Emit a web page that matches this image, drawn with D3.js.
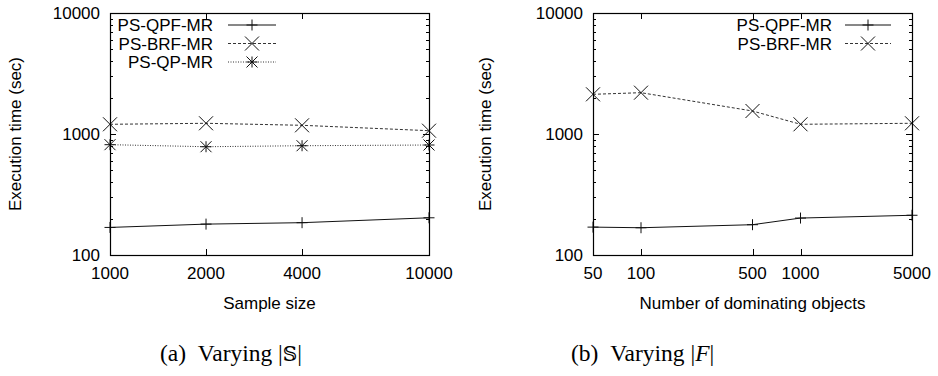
<!DOCTYPE html>
<html><head><meta charset="utf-8">
<script src="https://cdn.jsdelivr.net/npm/d3@7"></script>
<style>
body{margin:0;background:#fff;}
svg{font-family:"Liberation Sans",Arial,sans-serif;}
</style></head>
<body><svg id="c" width="938" height="376"></svg>
<script>
// ---- data ----
const sampleSizes = [1000, 2000, 4000, 10000];
const sampleTicks = ["1000", "2000", "4000", "10000"];
const qpfA = [169, 180, 185, 203];
const brfA = [1203, 1226, 1180, 1065];
const qpA  = [816, 785, 800, 811];

const domObjects = [50, 100, 500, 1000, 5000];
const domTicks = ["50", "100", "500", "1000", "5000"];
const qpfB = [170, 168, 178, 202, 213];
const brfB = [2128, 2195, 1549, 1203, 1226];

const yTickLabels = ["100", "1000", "10000"];
const yTickValues = [100, 1000, 10000];

const svg = d3.select("#c");

function marker(g, type, x, y) {
  const p = d3.path();
  if (type === "plus" || type === "star") {
    const s = 5.5;
    p.moveTo(x - s, y); p.lineTo(x + s, y);
    p.moveTo(x, y - s); p.lineTo(x, y + s);
  }
  if (type === "cross" || type === "star") {
    const s = type === "star" ? 5.5 : 7;
    p.moveTo(x - s, y - s); p.lineTo(x + s, y + s);
    p.moveTo(x - s, y + s); p.lineTo(x + s, y - s);
  }
  g.append("path").attr("d", p.toString()).attr("stroke", "#111").attr("stroke-width", 1).attr("fill", "none");
}

const styles = {
  solid: null,
  dashed: "3,2",
  dotted: "1,1.5"
};

function panel(opt) {
  const {x0, x1, y0, y1, xs, xt, series, legend, xLabel, yLabelX, capX, capHTML} = opt;
  const g = svg.append("g");
  const x = d3.scaleLog().domain([xs[0], xs[xs.length - 1]]).range([x0, x1]);
  const y = d3.scaleLog().domain([100, 10000]).range([y1, y0]);

  // ticks
  const tk = g.append("g").attr("stroke", "#000").attr("stroke-width", 1);
  const ticksY = [];
  for (let d = 100; d < 10000; d *= 10) for (let m = 1; m <= 10; m++) ticksY.push(d * m);
  ticksY.filter((v, i, a) => a.indexOf(v) === i).forEach(v => {
    const major = [100, 1000, 10000].includes(v);
    const len = major ? 6 : 3;
    const yy = Math.round(y(v)) + 0.5;
    tk.append("line").attr("x1", x0).attr("x2", x0 + len).attr("y1", yy).attr("y2", yy);
    tk.append("line").attr("x1", x1).attr("x2", x1 - len).attr("y1", yy).attr("y2", yy);
  });
  xs.forEach(v => {
    const xx = Math.round(x(v)) + 0.5;
    tk.append("line").attr("x1", xx).attr("x2", xx).attr("y1", y1).attr("y2", y1 - 6);
    tk.append("line").attr("x1", xx).attr("x2", xx).attr("y1", y0).attr("y2", y0 + 6);
  });

  // y tick labels
  yTickValues.forEach((v, i) => {
    g.append("text").attr("x", x0 - 10).attr("y", y(v)).attr("dy", "0.36em")
      .attr("text-anchor", "end").attr("font-size", 17).text(yTickLabels[i]);
  });
  // x tick labels
  xs.forEach((v, i) => {
    g.append("text").attr("x", x(v)).attr("y", y1 + 24)
      .attr("text-anchor", "middle").attr("font-size", 17).text(xt[i]);
  });

  // series
  series.forEach(s => {
    const line = d3.line().x((d, i) => x(xs[i])).y(d => y(d));
    g.append("path").attr("d", line(s.values)).attr("fill", "none")
      .attr("stroke", s.style === "solid" ? "#111" : "#333").attr("stroke-width", 1)
      .attr("stroke-dasharray", styles[s.style]);
    s.values.forEach((v, i) => marker(g, s.marker, x(xs[i]), y(v)));
  });

  // legend
  series.forEach((s, i) => {
    const ly = legend.y + i * 18.5;
    g.append("text").attr("x", legend.textX).attr("y", ly).attr("dy", "0.36em")
      .attr("text-anchor", "end").attr("font-size", 17).text(s.name);
    g.append("line").attr("x1", legend.lx0).attr("x2", legend.lx1).attr("y1", ly).attr("y2", ly)
      .attr("stroke", s.style === "solid" ? "#111" : "#333").attr("stroke-dasharray", styles[s.style]);
    marker(g, s.marker, (legend.lx0 + legend.lx1) / 2, ly);
  });

  // frame
  g.append("rect").attr("x", x0 + 0.5).attr("y", y0 + 0.5).attr("width", x1 - x0).attr("height", y1 - y0)
    .attr("fill", "none").attr("stroke", "#000").attr("stroke-width", 1.2);

  // axis labels
  g.append("text").attr("x", (x0 + x1) / 2).attr("y", y1 + 54).attr("text-anchor", "middle")
    .attr("font-size", 17).text(xLabel);
  g.append("text").attr("transform", `translate(${yLabelX},${(y0 + y1) / 2}) rotate(-90)`)
    .attr("text-anchor", "middle").attr("dy", "0.36em").attr("font-size", 17).text("Execution time (sec)");

  // caption
  const cap = g.append("text").attr("x", capX).attr("y", 361)
    .style("font-family", "'Liberation Serif','Times New Roman',serif").attr("font-size", 23.5);
  capHTML(cap);
}

panel({
  x0: 110, x1: 429, y0: 13, y1: 255,
  xs: sampleSizes, xt: sampleTicks,
  series: [
    {name: "PS-QPF-MR", values: qpfA, style: "solid", marker: "plus"},
    {name: "PS-BRF-MR", values: brfA, style: "dashed", marker: "cross"},
    {name: "PS-QP-MR", values: qpA, style: "dotted", marker: "star"}
  ],
  legend: {y: 25, textX: 213, lx0: 228, lx1: 276},
  xLabel: "Sample size", yLabelX: 15,
  capX: 160,
  capHTML: t => {
    t.append("tspan").text("(a)\u2002Varying |");
    t.append("tspan").style("font-family", "'DejaVu Serif','DejaVu Sans','Noto Sans',serif").attr("font-size", 20).text("\uD835\uDD4A");
    t.append("tspan").text("|");
  }
});

panel({
  x0: 593, x1: 912, y0: 13, y1: 255,
  xs: domObjects, xt: domTicks,
  series: [
    {name: "PS-QPF-MR", values: qpfB, style: "solid", marker: "plus"},
    {name: "PS-BRF-MR", values: brfB, style: "dashed", marker: "cross"}
  ],
  legend: {y: 25, textX: 832, lx0: 845, lx1: 891},
  xLabel: "Number of dominating objects", yLabelX: 485,
  capX: 571,
  capHTML: t => {
    t.append("tspan").text("(b)\u2002Varying |");
    t.append("tspan").attr("font-style", "italic").text("F");
    t.append("tspan").text("|");
  }
});
</script></body></html>
